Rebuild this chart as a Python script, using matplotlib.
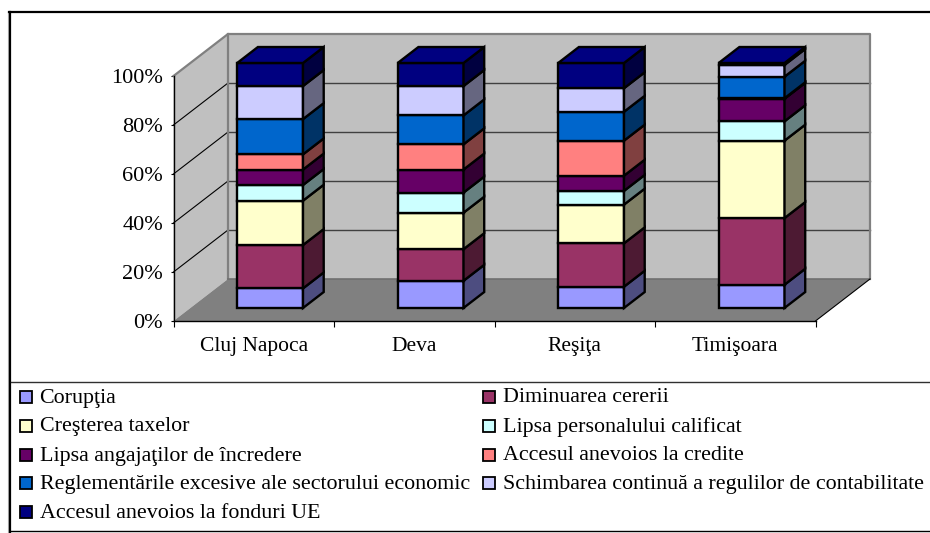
import matplotlib
matplotlib.use('Agg')
import matplotlib.pyplot as plt
from matplotlib.patches import Polygon, Rectangle
import numpy as np

plt.rcParams['font.family'] = ['Liberation Serif', 'DejaVu Serif']

cities = ['Cluj Napoca', 'Deva', 'Reşiţa', 'Timişoara']
pct_ticks = [0, 20, 40, 60, 80, 100]

series_names = ['Corupţia', 'Diminuarea cererii', 'Creşterea taxelor',
                'Lipsa personalului calificat', 'Lipsa angajaţilor de încredere',
                'Accesul anevoios la credite', 'Reglementările excesive ale sectorului economic',
                'Schimbarea continuă a regulilor de contabilitate', 'Accesul anevoios la fonduri UE']
coruptia = [8.0, 11.1, 8.7, 9.5]
diminuarea = [17.7, 12.9, 17.7, 27.2]
taxe = [18.1, 14.9, 15.8, 31.6]
personal = [6.4, 8.2, 5.6, 7.9]
angajati = [6.3, 9.4, 6.2, 9.2]
credite = [6.2, 10.3, 14.3, 0.2]
reglementari = [14.4, 11.8, 11.8, 8.8]
schimbare = [13.5, 12.0, 9.6, 4.8]
fonduri = [9.4, 9.4, 10.3, 0.8]
series = [coruptia, diminuarea, taxe, personal, angajati, credite, reglementari, schimbare, fonduri]
colors = ['#9999FF', '#993366', '#FFFFCC', '#CCFFFF', '#660066', '#FF8080', '#0066CC', '#CCCCFF', '#000080']
sides = ['#4D4D80', '#4D1A33', '#808066', '#668080', '#330033', '#804040', '#003366', '#666680', '#000040']

W, H = 930, 533
fig = plt.figure(figsize=(W / 100, H / 100), dpi=100)

# axes = the front plane of the 3D box
x0, x1, y0, y1 = 173.5, 815.5, 76, 321
ax = fig.add_axes([x0 / W, 1 - y1 / H, (x1 - x0) / W, (y1 - y0) / H])
ax.set_xlim(0, 4)
ax.set_ylim(0, 100)
ax.patch.set_alpha(0)

dx = 54.5 / ((x1 - x0) / 4)   # full depth, x in categories
dy = 42 / ((y1 - y0) / 100)   # full depth, y in percent


def proj(x, y, d):
    return (x + d * dx, y + d * dy)


def poly(pts, fc, ec='none', lw=0, z=1):
    ax.add_patch(Polygon(pts, closed=True, fc=fc, ec=ec, lw=lw, zorder=z, clip_on=False, joinstyle='miter'))


# walls and floor
poly([proj(0, 0, 0), proj(0, 0, 1), proj(0, 100, 1), proj(0, 100, 0)], '#C0C0C0')
poly([proj(0, 0, 1), proj(4, 0, 1), proj(4, 100, 1), proj(0, 100, 1)], '#C0C0C0')
poly([proj(0, 0, 0), proj(4, 0, 0), proj(4, 0, 1), proj(0, 0, 1)], '#808080')

for t in pct_ticks[1:-1]:
    a, b, c = proj(0, t, 0), proj(0, t, 1), proj(4, t, 1)
    ax.plot([b[0], c[0]], [b[1], c[1]], color='#404040', lw=1, zorder=2, clip_on=False)
    ax.plot([a[0], b[0]], [a[1], b[1]], color='black', lw=0.8, zorder=2, clip_on=False)
a, b = proj(0, 0, 1), proj(0, 100, 1)
ax.plot([a[0], b[0]], [a[1], b[1]], color='#808080', lw=1.6, zorder=2, clip_on=False)
a, c = proj(0, 100, 0), proj(4, 100, 1)
ax.plot([a[0], b[0], c[0], proj(4, 0, 1)[0]], [a[1], b[1], c[1], proj(4, 0, 1)[1]],
        color='#808080', lw=1.6, zorder=2, clip_on=False)
a, b = proj(0, 0, 1), proj(4, 0, 1)
ax.plot([a[0], b[0]], [a[1], b[1]], color='#707070', lw=1.2, zorder=2, clip_on=False)
a, b = proj(4, 0, 0), proj(4, 0, 1)
ax.plot([a[0], b[0]], [a[1], b[1]], color='black', lw=0.8, zorder=2, clip_on=False)

# stacked bars
bar_w = 0.41
d_front, d_back = 0.30, 0.68
lift = 0.31 * dy
for i in range(len(cities)):
    xc = i + 0.5 + d_front * dx
    bottom = lift
    xl, xr = xc - bar_w / 2, xc + bar_w / 2
    depth = d_back - d_front
    for vals, col, side in zip(series, colors, sides):
        v = vals[i]
        ax.bar(xc, v, width=bar_w, bottom=bottom, color=col, edgecolor='black', lw=1.7, zorder=3, clip_on=False)
        p0 = (xr, bottom)
        p1 = (xr, bottom + v)
        poly([p0, (p0[0] + depth * dx, p0[1] + depth * dy),
              (p1[0] + depth * dx, p1[1] + depth * dy), p1], side, 'black', 1.7, 3)
        bottom += v
    # top face, same colour as the last series
    poly([(xl, bottom), (xr, bottom), (xr + depth * dx, bottom + depth * dy),
          (xl + depth * dx, bottom + depth * dy)], colors[-1], 'black', 1.7, 3)

for s in ['top', 'right']:
    ax.spines[s].set_visible(False)
for s in ['left', 'bottom']:
    ax.spines[s].set_linewidth(1.0)
    ax.spines[s].set_zorder(4)

ax.set_yticks(pct_ticks)
ax.set_yticklabels(['%d%%' % t for t in pct_ticks], fontsize=16, color='black')
ax.set_xticks(range(5))
ax.set_xticklabels([''] * 5)
ax.tick_params(axis='y', length=2.5, width=0.8, pad=5)
ax.tick_params(axis='x', length=4.5, width=0.8)
for i, c in enumerate(cities):
    ax.annotate(c, (i + 0.5, 0), xytext=(0, -18.5), textcoords='offset points',
                ha='center', va='center', fontsize=15.5)

# frame and legend box on figure pixels
fr = fig.add_axes([0, 0, 1, 1], zorder=5)
fr.set_xlim(0, W)
fr.set_ylim(H, 0)
fr.axis('off')
fr.patch.set_alpha(0)
fr.plot([8, 8], [12, 533], color='#B0B0B0', lw=0.8)
fr.plot([10, 10], [12, 533], color='black', lw=1.6)
fr.plot([9, 930], [12, 12], color='black', lw=1.6)
fr.plot([11, 930], [382, 382], color='#303030', lw=1.0)
fr.plot([11, 930], [531, 531], color='black', lw=1.0)

col_x = [19.5, 482.5]
row_y = [397, 426, 455, 483, 512]
for k, name in enumerate(series_names):
    cx = col_x[k % 2]
    ry = row_y[k // 2]
    fr.add_patch(Rectangle((cx, ry - 6), 12, 12, fc=colors[k], ec='black', lw=1.3))
    fr.text(cx + 20, ry + 1, name, va='center', ha='left', fontsize=15.8)

fig.savefig('out.png', dpi=100)
